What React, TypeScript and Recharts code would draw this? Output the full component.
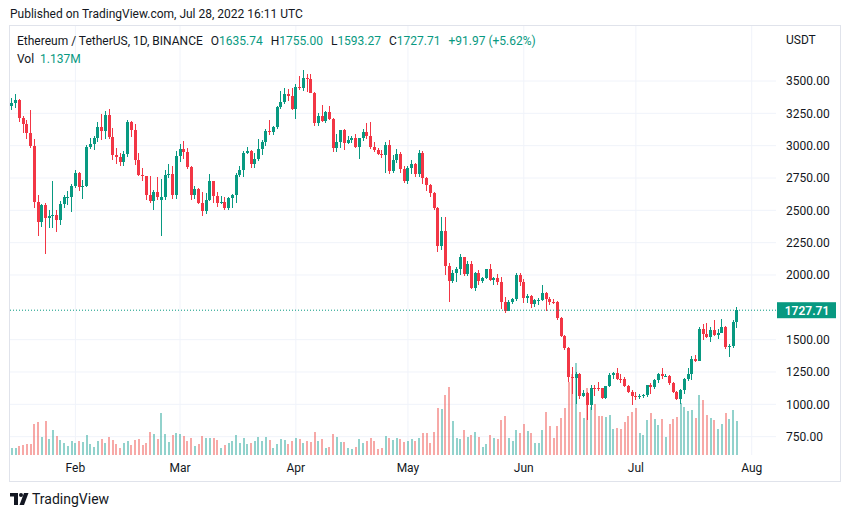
import { ComposedChart, Bar, XAxis, YAxis, ReferenceLine } from "recharts";

const FONT = "Roboto, 'Noto Sans', sans-serif";
const TEXT = "#131722";
const UP = "#089981";
const DOWN = "#f23645";
const UP_VOL = "rgba(38,166,154,0.5)";
const DOWN_VOL = "rgba(239,83,80,0.5)";
const GRID = "#f0f3fa";

// daily candles ETH/USDT, Jan 15 2022 -> Jul 28 2022
const opens = [
  3310, 3331, 3356, 3212, 3164, 3096, 3001, 2562, 2406, 2539, 2441, 2458, 2467, 2424, 2546, 2601, 2603,
  2688, 2792, 2680, 2690, 2990, 3012, 3058, 3144, 3112, 3240, 3065, 2928, 2916, 2873, 2935, 3185, 3125, 2888, 2775, 2762, 2622, 2571, 2640, 2580, 2605, 2775, 2780, 2620,
  2920, 2973, 2948, 2834, 2618, 2665, 2553, 2495, 2578, 2729, 2608, 2559, 2567, 2519, 2592, 2620, 2773, 2815, 2946, 2960, 2862, 2897, 2972, 3030, 3110, 3105, 3145, 3296, 3335, 3400, 3384,
  3282, 3454, 3443, 3523, 3518, 3410, 3172, 3230, 3190, 3260, 3210, 2981, 3030, 3118, 3021, 3042, 3063, 2992, 3057, 3102, 3078, 2986, 2963, 2937, 2924, 3007, 2808, 2890, 2936, 2816,
  2727, 2825, 2857, 2783, 2940, 2748, 2695, 2636, 2518, 2228, 2342, 2071, 1955, 2012, 2050, 2138, 2010, 2087, 1898, 2012, 1955, 1975, 2043, 1962, 1978, 1942, 1792, 1724, 1792, 1812, 1997,
  1942, 1822, 1834, 1775, 1805, 1806, 1860, 1813, 1793, 1790, 1664, 1530, 1433, 1210, 1205, 1234, 1068, 1086, 994, 1127, 1125, 1123, 1050, 1143, 1225, 1243, 1198, 1192, 1143, 1099,
  1067, 1059, 1067, 1074, 1150, 1134, 1187, 1237, 1216, 1220, 1168, 1097, 1038, 1113, 1192, 1233, 1354, 1338, 1580, 1542, 1521, 1577, 1537, 1551, 1600, 1440, 1452, 1635.74,
];
const highs = [
  3370, 3402, 3360, 3228, 3200, 3273, 3050, 2620, 2550, 2555, 2500, 2723, 2500, 2570, 2620, 2650, 2700,
  2815, 2800, 2735, 3005, 3060, 3075, 3186, 3245, 3270, 3285, 3138, 2985, 2945, 2955, 3200, 3190, 3165, 2945, 2830, 2768, 2765, 2660, 2760, 2740, 2815, 2858, 2845, 2955,
  3010, 3038, 2980, 2845, 2685, 2670, 2642, 2633, 2780, 2730, 2640, 2610, 2605, 2600, 2625, 2790, 2840, 2960, 2990, 2969, 2945, 3050, 3047, 3126, 3195, 3150, 3305, 3420, 3445, 3435, 3443,
  3475, 3540, 3583, 3555, 3556, 3412, 3255, 3315, 3270, 3305, 3212, 3090, 3125, 3130, 3075, 3073, 3087, 3060, 3130, 3172, 3180, 3030, 2980, 2965, 3025, 3040, 2930, 2975, 2950, 2840,
  2840, 2890, 2865, 2965, 2955, 2760, 2700, 2645, 2523, 2450, 2450, 2090, 2040, 2060, 2160, 2140, 2110, 2110, 2025, 2040, 1985, 2050, 2083, 1988, 2010, 1983, 1828, 1810, 1822, 2013, 2016,
  1971, 1850, 1849, 1813, 1820, 1919, 1868, 1830, 1815, 1800, 1675, 1535, 1445, 1290, 1250, 1245, 1112, 1093, 1148, 1150, 1175, 1130, 1145, 1240, 1250, 1282, 1238, 1212, 1150, 1110,
  1095, 1080, 1082, 1152, 1162, 1192, 1240, 1280, 1235, 1225, 1170, 1102, 1115, 1200, 1280, 1375, 1385, 1595, 1622, 1625, 1600, 1655, 1580, 1663, 1602, 1465, 1650, 1755,
];
const lows = [
  3278, 3290, 3180, 3095, 3055, 2980, 2520, 2300, 2370, 2159, 2365, 2360, 2330, 2385, 2520, 2545, 2485,
  2670, 2650, 2585, 2680, 2975, 2965, 3025, 3045, 3055, 3050, 2890, 2860, 2840, 2840, 2910, 3070, 2850, 2765, 2725, 2580, 2560, 2500, 2580, 2300, 2580, 2750, 2590, 2590,
  2875, 2895, 2820, 2581, 2590, 2550, 2455, 2475, 2576, 2560, 2528, 2550, 2500, 2500, 2520, 2560, 2755, 2755, 2933, 2830, 2828, 2883, 2925, 3000, 3080, 3085, 3130, 3280, 3320, 3345, 3273,
  3210, 3431, 3420, 3412, 3408, 3150, 3150, 3180, 3178, 3195, 2950, 2950, 2980, 2970, 3010, 3020, 2985, 2900, 3036, 3055, 2975, 2950, 2928, 2905, 2790, 2780, 2790, 2865, 2790, 2710,
  2700, 2778, 2760, 2754, 2700, 2650, 2600, 2500, 2180, 2190, 2000, 1790, 1940, 1948, 2000, 1990, 1995, 1890, 1880, 1920, 1935, 1970, 1953, 1925, 1925, 1740, 1703, 1720, 1775, 1800, 1918,
  1780, 1785, 1742, 1755, 1770, 1800, 1725, 1768, 1775, 1650, 1520, 1420, 1170, 1080, 1000, 1045, 1060, 881, 960, 1065, 1105, 1040, 1040, 1132, 1195, 1190, 1165, 1136, 1088, 996,
  1035, 1040, 1050, 1060, 1082, 1122, 1165, 1195, 1210, 1152, 1085, 1035, 1005, 1080, 1180, 1188, 1327, 1335, 1500, 1510, 1480, 1530, 1506, 1550, 1427, 1366, 1432, 1593.27,
];
const closes = [
  3331, 3356, 3212, 3164, 3096, 3001, 2562, 2406, 2539, 2441, 2458, 2467, 2424, 2546, 2601, 2603, 2688,
  2792, 2680, 2690, 2990, 3012, 3058, 3144, 3112, 3240, 3065, 2928, 2916, 2873, 2935, 3185, 3125, 2888, 2775, 2762, 2622, 2571, 2640, 2600, 2605, 2775, 2780, 2620, 2920,
  2973, 2948, 2834, 2618, 2665, 2553, 2495, 2578, 2729, 2608, 2559, 2567, 2519, 2592, 2620, 2773, 2815, 2946, 2960, 2862, 2897, 2972, 3030, 3110, 3105, 3145, 3296, 3335, 3400, 3384, 3282,
  3454, 3443, 3523, 3518, 3410, 3172, 3230, 3190, 3260, 3210, 2981, 3030, 3118, 3021, 3042, 3063, 2992, 3057, 3102, 3078, 2986, 2963, 2937, 2924, 3007, 2808, 2890, 2936, 2816, 2727,
  2825, 2857, 2783, 2940, 2748, 2695, 2636, 2518, 2228, 2342, 2071, 1955, 2012, 2050, 2138, 2010, 2087, 1898, 2012, 1955, 1975, 2043, 1962, 1978, 1942, 1792, 1724, 1792, 1812, 1997, 1942,
  1822, 1834, 1775, 1805, 1806, 1860, 1813, 1793, 1790, 1664, 1530, 1433, 1208, 1205, 1234, 1068, 1086, 994, 1127, 1125, 1123, 1050, 1143, 1225, 1243, 1198, 1192, 1143, 1099, 1067,
  1059, 1067, 1074, 1150, 1134, 1187, 1237, 1216, 1220, 1168, 1097, 1038, 1113, 1192, 1233, 1354, 1338, 1580, 1542, 1521, 1577, 1537, 1551, 1600, 1440, 1452, 1636, 1727.71,
];
// volume, thousands of ETH
const volumes = [
  234, 234, 301, 334, 368, 368, 1037, 1104, 602, 1137, 535, 836, 635, 502, 401, 301, 468,
  401, 468, 435, 669, 368, 268, 468, 535, 401, 602, 502, 368, 234, 401, 468, 334, 502, 535, 334, 401, 769, 702, 535, 1404, 702, 435, 669, 736,
  702, 635, 468, 568, 301, 368, 635, 568, 568, 568, 502, 234, 334, 401, 468, 669, 401, 568, 368, 401, 468, 602, 468, 602, 502, 234, 368, 535, 502, 368, 468,
  568, 535, 401, 468, 435, 769, 468, 535, 234, 268, 702, 602, 435, 435, 234, 201, 268, 535, 401, 468, 568, 468, 201, 234, 635, 568, 502, 568, 535, 435,
  468, 535, 468, 568, 736, 736, 401, 769, 1572, 1538, 2006, 2274, 1137, 568, 535, 836, 602, 669, 769, 602, 268, 368, 669, 568, 535, 1170, 1304, 568, 468, 836, 736,
  1037, 803, 736, 401, 401, 836, 1438, 970, 568, 970, 1237, 1572, 2441, 2709, 3076, 1438, 1237, 2240, 1605, 1705, 1304, 1304, 1271, 1338, 869, 903, 869, 1104, 1304, 1438,
  1572, 736, 669, 1170, 1404, 1204, 1003, 1204, 602, 1037, 1204, 1271, 1739, 1605, 1471, 1505, 1237, 2006, 1839, 1338, 1237, 1170, 869, 1037, 1404, 1204, 1505, 1137,
];

const monthStarts = ["2022-02-01", "2022-03-01", "2022-04-01", "2022-05-01", "2022-06-01", "2022-07-01", "2022-08-01"];
const monthNames = ["Feb", "Mar", "Apr", "May", "Jun", "Jul", "Aug"];
// 1750 is hidden behind the last-price tag
const priceTicks = [750, 1000, 1250, 1500, 2000, 2250, 2500, 2750, 3000, 3250, 3500];
const LAST_PRICE = 1727.71;

const FIRST_DAY = Date.UTC(2022, 0, 15);
const PAD_DAYS = 10; // empty days to the right of the last candle
const dayKey = (i: number) => new Date(FIRST_DAY + i * 86400000).toISOString().slice(0, 10);

const data = Array.from({ length: closes.length + PAD_DAYS }, (_, i) =>
  i < closes.length
    ? {
        date: dayKey(i),
        open: opens[i],
        high: highs[i],
        low: lows[i],
        close: closes[i],
        range: [lows[i], highs[i]],
        volume: volumes[i],
      }
    : { date: dayKey(i) }
);

const CHART_W = 830;
const CHART_H = 455;
const PRICE_DOMAIN: [number, number] = [608.2, 3925.3];
const VOL_DOMAIN: [number, number] = [0, 14346];

const Candle = (props: any) => {
  const { x, y, width, height, payload } = props;
  if (!payload || payload.close == null || !isFinite(y) || !isFinite(height)) return <g />;
  const { open, high, low, close } = payload;
  const top = Math.min(y, y + height);
  const h = Math.abs(height);
  const k = h / (high - low);
  const yOf = (v: number) => top + (high - v) * k;
  const cx = x + width / 2;
  const color = close >= open ? UP : DOWN;
  const bx = Math.round(cx - 1.5);
  const bt = Math.round(yOf(Math.max(open, close)));
  const bb = Math.round(yOf(Math.min(open, close)));
  const wt = Math.round(top);
  const wb = Math.round(top + h);
  return (
    <g>
      <rect x={bx + 1} y={wt} width={1} height={Math.max(1, wb - wt)} fill={color} />
      <rect x={bx} y={bt} width={3} height={Math.max(1, bb - bt)} fill={color} />
    </g>
  );
};

const VolumeBar = (props: any) => {
  const { x, y, width, height, payload } = props;
  if (!payload || payload.volume == null || !isFinite(y)) return <g />;
  const cx = x + width / 2;
  const top = Math.round(Math.min(y, y + height));
  const bottom = Math.round(Math.max(y, y + height));
  const color = payload.close >= payload.open ? UP_VOL : DOWN_VOL;
  return <rect x={Math.round(cx - 1)} y={top} width={2} height={Math.max(1, bottom - top)} fill={color} />;
};

const MonthTick = (props: any) => {
  const { x, y, payload } = props;
  const idx = monthStarts.indexOf(payload.value);
  if (idx < 0) return <g />;
  return (
    <text x={x} y={y} dy="0.71em" textAnchor="middle" fontSize={12} fill={TEXT} fontFamily={FONT}>
      {monthNames[idx]}
    </text>
  );
};

const PriceTag = (props: any) => {
  const { viewBox } = props;
  if (!viewBox) return null;
  const left = viewBox.x + viewBox.width;
  return (
    <g>
      <rect x={left + 1} y={viewBox.y - 8} width={59} height={16} fill={UP} />
      <text
        x={left + 31}
        y={viewBox.y}
        dy="0.36em"
        textAnchor="middle"
        fontSize={12}
        fontWeight={600}
        fill="#ffffff"
        fontFamily={FONT}
      >
        {LAST_PRICE.toFixed(2)}
      </text>
    </g>
  );
};

const layer = (z: number): React.CSSProperties => ({ position: "absolute", left: 10, top: 26, zIndex: z });

export default function App() {
  return (
    <div
      style={{
        position: "absolute",
        left: 0,
        top: 0,
        width: 851,
        height: 518,
        background: "#ffffff",
        fontFamily: FONT,
        color: TEXT,
        overflow: "hidden",
      }}
    >
      <div style={{ position: "absolute", left: 10, top: 6, fontSize: 12, lineHeight: "16px", whiteSpace: "nowrap" }}>
        Published on TradingView.com, Jul 28, 2022 16:11 UTC
      </div>

      <div
        style={{
          position: "absolute",
          left: 9,
          top: 25,
          width: 832,
          height: 457,
          border: "1px solid #e0e3eb",
          boxSizing: "border-box",
        }}
      />

      {/* grid */}
      <div style={layer(1)}>
        <ComposedChart width={CHART_W} height={CHART_H} data={data} margin={{ top: 0, right: 0, bottom: 0, left: 0 }}>
          <XAxis dataKey="date" scale="band" height={26} tick={false} tickLine={false} axisLine={false} />
          <YAxis orientation="right" width={64} domain={PRICE_DOMAIN} allowDataOverflow tick={false} tickLine={false} axisLine={false} />
          {priceTicks.map((t) => (
            <ReferenceLine key={t} y={t} stroke={GRID} />
          ))}
          {monthStarts.map((d) => (
            <ReferenceLine key={d} x={d} stroke={GRID} />
          ))}
        </ComposedChart>
      </div>

      {/* volume */}
      <div style={layer(2)}>
        <ComposedChart width={CHART_W} height={CHART_H} data={data} margin={{ top: 0, right: 0, bottom: 0, left: 0 }}>
          <XAxis dataKey="date" scale="band" height={26} tick={false} tickLine={false} axisLine={false} />
          <YAxis yAxisId="vol" orientation="right" width={64} domain={VOL_DOMAIN} allowDataOverflow tick={false} tickLine={false} axisLine={false} />
          <Bar yAxisId="vol" dataKey="volume" shape={VolumeBar} isAnimationActive={false} />
        </ComposedChart>
      </div>

      {/* candles, axes, last price */}
      <div style={layer(3)}>
        <ComposedChart width={CHART_W} height={CHART_H} data={data} margin={{ top: 0, right: 0, bottom: 0, left: 0 }}>
          <XAxis dataKey="date" scale="band" height={26} interval={0} tick={MonthTick} tickLine={false} axisLine={false} />
          <YAxis
            orientation="right"
            width={64}
            domain={PRICE_DOMAIN}
            allowDataOverflow
            ticks={priceTicks}
            interval={0}
            tickFormatter={(v: number) => v.toFixed(2)}
            tick={{ fontSize: 12, fill: TEXT, fontFamily: FONT }}
            tickMargin={4}
            tickLine={false}
            axisLine={false}
          />
          <Bar dataKey="range" shape={Candle} isAnimationActive={false} />
          <ReferenceLine y={LAST_PRICE} stroke={UP} strokeDasharray="1 2" label={PriceTag} />
        </ComposedChart>
      </div>

      <div
        style={{
          position: "absolute",
          left: 17,
          top: 33,
          zIndex: 5,
          fontSize: 12,
          lineHeight: "16px",
          whiteSpace: "nowrap",
          display: "flex",
          gap: 8,
        }}
      >
        <span>Ethereum / TetherUS, 1D, BINANCE</span>
        <span>
          O<span style={{ color: UP }}>1635.74</span>
        </span>
        <span>
          H<span style={{ color: UP }}>1755.00</span>
        </span>
        <span>
          L<span style={{ color: UP }}>1593.27</span>
        </span>
        <span>
          C<span style={{ color: UP }}>1727.71</span>
        </span>
        <span style={{ color: UP }}>+91.97 (+5.62%)</span>
      </div>
      <div style={{ position: "absolute", left: 17, top: 51, zIndex: 5, fontSize: 12, lineHeight: "16px", whiteSpace: "nowrap" }}>
        Vol <span style={{ color: UP, marginLeft: 3 }}>1.137M</span>
      </div>
      <div style={{ position: "absolute", left: 786, top: 32, zIndex: 5, fontSize: 12, lineHeight: "16px" }}>USDT</div>

      <svg style={{ position: "absolute", left: 10, top: 493 }} width={20} height={13} viewBox="0 0 20 13">
        <rect x={0} y={0} width={8} height={3.5} fill={TEXT} />
        <rect x={4} y={0} width={4} height={12} fill={TEXT} />
        <circle cx={11} cy={2} r={2} fill={TEXT} />
        <polygon points="14,0 18.5,0 14,12 9.5,12" fill={TEXT} />
      </svg>
      <div style={{ position: "absolute", left: 32, top: 491, fontSize: 14, lineHeight: "16px", color: TEXT }}>TradingView</div>
    </div>
  );
}
